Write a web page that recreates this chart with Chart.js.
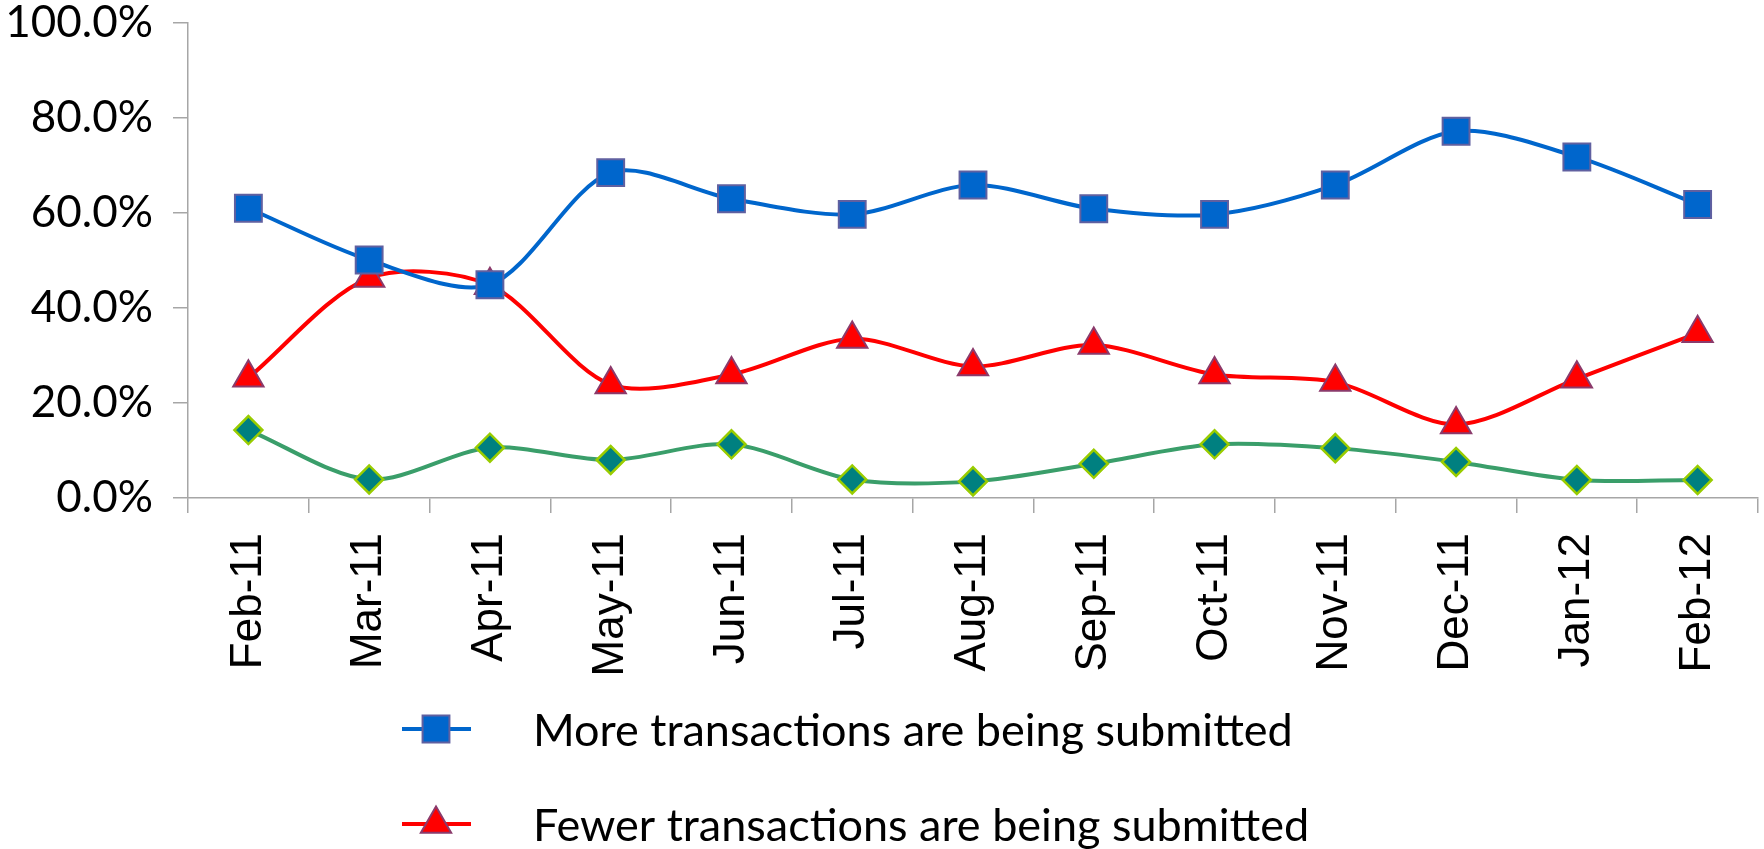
<!DOCTYPE html>
<html>
<head>
<meta charset="utf-8">
<script src="https://cdn.jsdelivr.net/npm/chart.js@4/dist/chart.umd.min.js"></script>
<style>
  html, body { margin: 0; padding: 0; background: #fff; overflow: hidden; }
  #wrap { width: 1764px; height: 849px; position: relative; }
</style>
</head>
<body>
<div id="wrap"><canvas id="c" width="1764" height="849"></canvas></div>
<script>
const categories = ["Feb-11","Mar-11","Apr-11","May-11","Jun-11","Jul-11","Aug-11","Sep-11","Oct-11","Nov-11","Dec-11","Jan-12","Feb-12"];
const moreValues  = [61.0, 50.1, 44.9, 68.5, 63.0, 59.7, 65.9, 60.9, 59.7, 65.9, 77.2, 71.8, 61.8];
const fewerValues = [25.3, 46.3, 44.8, 23.9, 26.0, 33.5, 27.7, 32.2, 26.0, 24.4, 15.5, 25.1, 34.7];
const sameValues  = [14.3, 3.9, 10.6, 8.0, 11.3, 3.9, 3.5, 7.2, 11.3, 10.5, 7.6, 3.8, 3.8];
const seriesNames = ["More transactions are being submitted", "Fewer transactions are being submitted", "No change in transactions being submitted"];
const yTicks = [0, 20, 40, 60, 80, 100];

const AXIS = '#A6A6A6';
const LEFT = 188, BOTTOM = 498, TOP = 23;

const legendPlugin = {
  id: 'stackedLegend',
  afterDraw(chart) {
    const ctx = chart.ctx;
    ctx.save();
    chart.data.datasets.forEach((ds, i) => {
      const y = 729 + i * 95;
      if (y > chart.height + 40) return;
      ctx.strokeStyle = ds.borderColor;
      ctx.lineWidth = ds.borderWidth;
      ctx.beginPath();
      ctx.moveTo(402, y);
      ctx.lineTo(471, y);
      ctx.stroke();
      ctx.fillStyle = ds.pointBackgroundColor;
      ctx.strokeStyle = ds.pointBorderColor;
      ctx.lineWidth = ds.pointBorderWidth;
      Chart.helpers.drawPoint(ctx, { pointStyle: ds.pointStyle, radius: ds.pointRadius, rotation: 0, borderWidth: ds.pointBorderWidth }, 436, y);
      ctx.fillStyle = '#000';
      ctx.font = '45px Lato, "Open Sans", sans-serif';
      ctx.textBaseline = 'middle';
      ctx.textAlign = 'left';
      ctx.fillText(ds.label, 533, y + 2);
    });
    ctx.restore();
  }
};

new Chart(document.getElementById('c'), {
  type: 'line',
  data: {
    labels: categories,
    datasets: [
      {
        label: seriesNames[0], data: moreValues,
        borderColor: '#0066CC', borderWidth: 4,
        pointStyle: 'rect', pointRadius: 19, pointBackgroundColor: '#0066CC',
        pointBorderColor: '#6060A0', pointBorderWidth: 2, tension: 0.3, order: 1
      },
      {
        label: seriesNames[1], data: fewerValues,
        borderColor: '#FF0000', borderWidth: 4,
        pointStyle: 'triangle', pointRadius: 17.5, pointBackgroundColor: '#FF0000',
        pointBorderColor: '#8B3A6B', pointBorderWidth: 2, tension: 0.3, order: 2
      },
      {
        label: seriesNames[2], data: sameValues,
        borderColor: '#3A9E6A', borderWidth: 4,
        pointStyle: 'rectRot', pointRadius: 14, pointBackgroundColor: '#008080',
        pointBorderColor: '#99CC00', pointBorderWidth: 2.5, tension: 0.3, order: 3
      }
    ]
  },
  options: {
    responsive: false,
    animation: false,
    layout: { autoPadding: false, padding: { top: TOP, right: 6, left: 0, bottom: 0 } },
    plugins: { legend: { display: false }, tooltip: { enabled: false } },
    scales: {
      x: {
        offset: true,
        grid: { offset: true, drawOnChartArea: false, drawTicks: true, tickLength: 15, color: AXIS, lineWidth: 1.5 },
        border: { color: AXIS, width: 1.5 },
        ticks: {
          minRotation: 90, maxRotation: 90, autoSkip: false, padding: 20,
          color: '#000', font: { family: '"Liberation Sans", Arial, sans-serif', size: 44, lineHeight: 1 }
        },
        afterFit(scale) {
          scale.height = 849 - BOTTOM;
          scale.paddingTop = 0; scale.paddingBottom = 0; scale.paddingLeft = 0; scale.paddingRight = 0;
        }
      },
      y: {
        min: 0, max: 100,
        afterBuildTicks(scale) { scale.ticks = yTicks.map(v => ({ value: v })); },
        grid: { drawOnChartArea: false, drawTicks: true, tickLength: 15, color: AXIS, lineWidth: 1.5 },
        border: { color: AXIS, width: 1.5 },
        ticks: {
          padding: 20, color: '#000',
          font: { family: 'Lato, "Open Sans", sans-serif', size: 44, lineHeight: 1 },
          callback: v => v.toFixed(1) + '%'
        },
        afterFit(scale) {
          scale.width = LEFT;
          scale.paddingTop = 0; scale.paddingBottom = 0; scale.paddingLeft = 0; scale.paddingRight = 0;
        }
      }
    }
  },
  plugins: [legendPlugin]
});
</script>
</body>
</html>
